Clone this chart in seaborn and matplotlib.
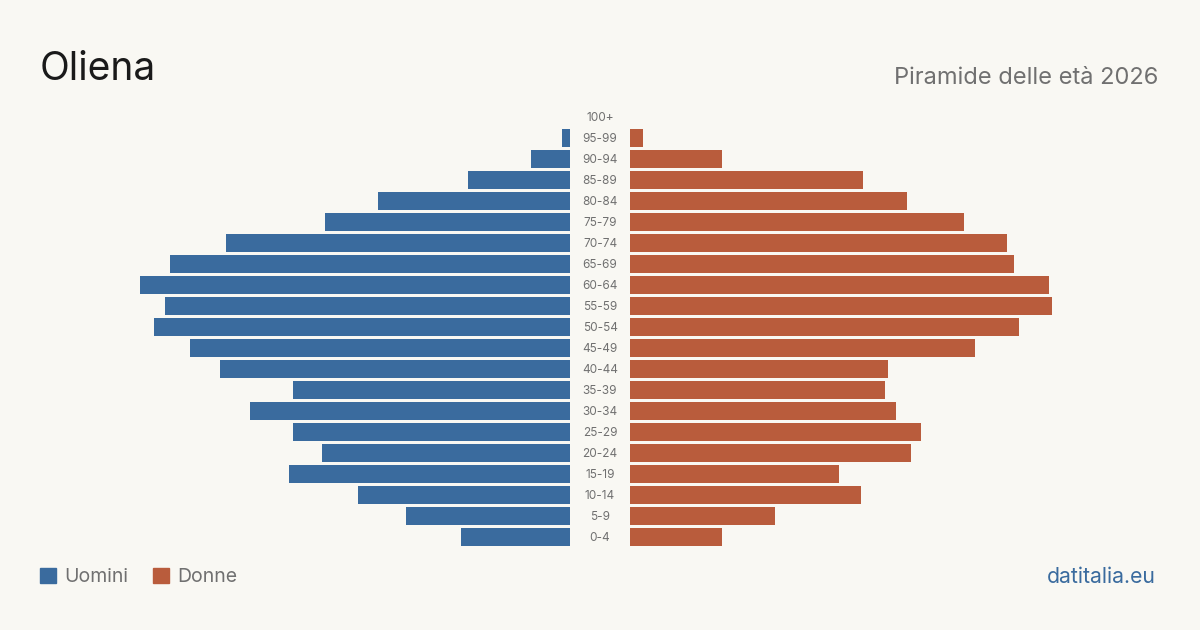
import numpy as np
import pandas as pd
import seaborn as sns
import matplotlib.pyplot as plt
from matplotlib.patches import Patch

eta = ["100+", "95-99", "90-94", "85-89", "80-84", "75-79", "70-74", "65-69",
       "60-64", "55-59", "50-54", "45-49", "40-44", "35-39", "30-34", "25-29",
       "20-24", "15-19", "10-14", "5-9", "0-4"]
uomini = [0, 5, 25, 65, 123, 157, 220, 256, 275, 259, 266, 243, 224, 177,
          205, 177, 159, 180, 136, 105, 70]
donne = [0, 8, 59, 149, 177, 214, 241, 246, 268, 270, 249, 221, 165, 163,
         170, 186, 180, 134, 148, 93, 59]

blu = "#3a6b9e"
rosso = "#b95c3c"
sfondo = "#f9f8f3"

df = pd.DataFrame({"eta": eta, "uomini": uomini, "donne": donne})

sns.set_theme(style="white")
plt.rcParams["font.family"] = ["Inter", "DejaVu Sans"]

fig = plt.figure(figsize=(12, 6.3), dpi=100)
fig.patch.set_facecolor(sfondo)

W, H = 1200, 630
xmax = 470 * 0.64
bottom = 1 - 547.5 / H
height = 441 / H
axl = fig.add_axes([100 / W, bottom, 470 / W, height])
axr = fig.add_axes([630 / W, bottom, 470 / W, height])

sns.barplot(data=df, x="uomini", y="eta", order=eta, color=blu, width=0.82,
            saturation=1, linewidth=0, ax=axl)
sns.barplot(data=df, x="donne", y="eta", order=eta, color=rosso, width=0.82,
            saturation=1, linewidth=0, ax=axr)

axl.set_xlim(xmax, 0)
axr.set_xlim(0, xmax)
for ax in (axl, axr):
    ax.set_facecolor(sfondo)
    ax.set_ylim(20.5, -0.5)
    ax.set_xticks([])
    ax.set_yticks([])
    ax.set_xlabel("")
    ax.set_ylabel("")
    sns.despine(ax=ax, left=True, bottom=True)

for i, lab in enumerate(eta):
    y = 1 - (118 + 21 * i) / H
    fig.text(600 / W, y, lab, ha="center", va="center", fontsize=8.5,
             color="#707070")

fig.text(40 / W, 1 - 69 / H, "Oliena", ha="left", va="center",
         fontsize=28, color="#1a1a1a")
fig.text(1158 / W, 1 - 78 / H, "Piramide delle età 2026", ha="right",
         va="center", fontsize=17, color="#707070")
fig.text(1156 / W, 1 - 577 / H, "datitalia.eu", ha="right", va="center",
         fontsize=15.3, color=blu)

handles = [Patch(color=blu, label="Uomini"), Patch(color=rosso, label="Donne")]
fig.legend(handles=handles, loc="center left",
           bbox_to_anchor=(40 / W, 1 - 577 / H), ncol=2, frameon=False,
           borderpad=0, borderaxespad=0,
           fontsize=14, labelcolor="#707070", handlelength=0.82,
           handleheight=0.82, handletextpad=0.41, columnspacing=1.29)

fig.savefig("out.png", dpi=100, facecolor=sfondo)
